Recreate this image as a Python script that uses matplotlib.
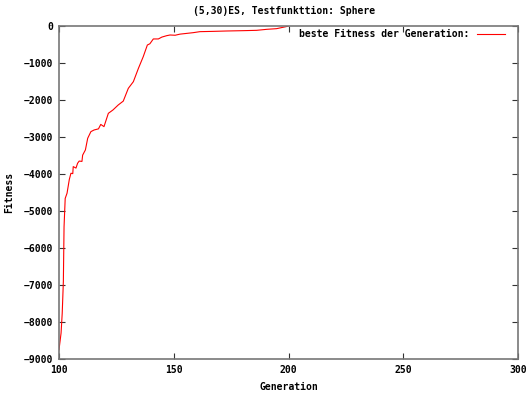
import matplotlib.pyplot as plt

# ------------------ DATA ------------------
generation = [100.0, 100.9, 101.4, 101.9, 102.2, 102.7, 103.5, 104.5, 105.2, 106.0,
              106.2, 107.4, 108.1, 108.8, 110.0, 110.3, 111.5, 112.5, 113.9, 115.3,
              117.2, 118.2, 119.6, 121.5, 123.5, 125.8, 128.0, 130.2, 132.4, 134.6,
              136.7, 138.5, 139.6, 141.1, 143.3, 144.8, 146.9, 148.4, 150.6, 152.7,
              155.6, 158.5, 161.4, 167.2, 173.0, 180.3, 186.1, 190.5, 194.8, 198.9,
              200.0]
fitness = [-8750, -8300, -7765, -6910, -5425, -4660, -4520, -4145, -3980, -3990,
           -3800, -3840, -3710, -3650, -3660, -3490, -3350, -3035, -2855, -2810,
           -2780, -2660, -2720, -2360, -2270, -2135, -2030, -1685, -1505, -1145,
           -830, -514, -480, -350, -350, -300, -262, -243, -250, -220,
           -200, -180, -153, -145, -135, -126, -117, -90, -72, -18,
           0]

x_ticks = [100, 150, 200, 250, 300]
y_ticks = [0, -1000, -2000, -3000, -4000, -5000, -6000, -7000, -8000, -9000]

# ------------------ PLOT ------------------
plt.rcParams['font.family'] = ['DejaVu Sans Mono']
plt.rcParams['font.weight'] = 'bold'
plt.rcParams['font.size'] = 7

fig = plt.figure(figsize=(5.27, 3.94), dpi=100)
ax = fig.add_axes([59 / 527, 1 - 359 / 394, (518 - 59) / 527, (359 - 26) / 394])

ax.plot(generation, fitness, color='#ff0000', lw=0.8,
        label='beste Fitness der Generation:')

ax.set_xlim(100, 300)
ax.set_ylim(-9000, 0)
ax.set_xticks(x_ticks)
ax.set_yticks(y_ticks)
ax.tick_params(direction='in', length=4, width=0.8, color='#333333',
               top=True, right=True, labelsize=7, pad=4)
for s in ax.spines.values():
    s.set_color('#777777')
    s.set_linewidth(1.2)

ax.set_xlabel('Generation', fontsize=7, fontweight='bold', labelpad=5)
ax.set_ylabel('Fitness', fontsize=7, fontweight='bold', labelpad=7)
fig.text(284 / 527, 1 - 11 / 394, '(5,30)ES, Testfunkttion: Sphere',
         ha='center', va='center', fontsize=7, fontweight='bold')

leg = ax.legend(loc='center right', bbox_to_anchor=(505 / 527, 1 - 34 / 394),
                bbox_transform=fig.transFigure, frameon=False, markerfirst=False,
                handlelength=2.9, borderaxespad=0, borderpad=0,
                handletextpad=0.72, fontsize=7)

plt.savefig('out.png', dpi=100)
plt.close()
